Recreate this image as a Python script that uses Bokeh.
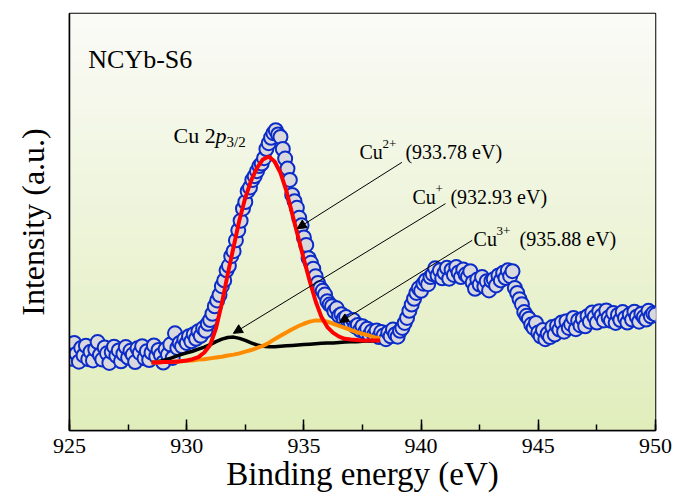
import numpy as np
from bokeh.plotting import figure
from bokeh.models import Label, Arrow, NormalHead, SingleIntervalTicker, FixedTicker, Range1d
from bokeh.embed import file_html
from bokeh.resources import INLINE

# ---------------- data ----------------
# measured Cu 2p3/2 spectrum, 925.0 ... 950.0 eV in 0.1 eV steps
energy = np.round(np.arange(925.0, 950.05, 0.1), 1)
intensity = [
    19.5, 17.2, 21.0, 18.4, 16.5, 19.8, 18.0, 20.3, 17.1, 18.9,
    16.8, 19.4, 21.2, 18.1, 17.0, 19.9, 18.5, 16.2, 18.8, 20.1,
    17.9, 19.2, 16.6, 18.4, 20.0, 17.5, 19.1, 18.2, 16.4, 19.7,
    18.6, 20.2, 17.3, 19.0, 16.9, 18.7, 20.4, 17.8, 19.3, 18.1,
    16.3, 19.5, 18.2, 20.6, 17.4, 23.3, 19.8, 21.0, 20.2, 21.9,
    21.0, 22.6, 21.4, 23.1, 22.0, 23.8, 22.7, 24.5, 23.9, 25.6,
    26.5, 28.0, 29.8, 31.2, 32.5, 34.6, 36.0, 38.4, 39.5, 41.8,
    43.0, 45.6, 48.0, 50.3, 53.2, 54.8, 57.4, 58.3, 60.1, 61.0,
    62.2, 63.4, 64.0, 65.3, 67.5, 68.9, 70.2, 71.3, 72.0, 71.0,
    70.4, 67.5, 65.2, 62.8, 60.1, 56.5, 55.0, 53.4, 51.0, 49.2,
    46.3, 44.5, 41.3, 40.2, 38.8, 37.0, 35.4, 34.2, 33.5, 32.6,
    31.0, 30.2, 29.8, 28.6, 29.3, 27.5, 27.9, 26.8, 27.2, 26.0,
    25.8, 26.5, 24.9, 25.3, 24.1, 25.0, 23.6, 24.4, 22.9, 23.8,
    23.0, 24.0, 22.4, 23.6, 22.8, 21.9, 23.5, 22.6, 24.2, 23.1,
    22.5, 23.9, 24.6, 25.8, 27.0, 28.7, 30.2, 31.6, 33.0, 34.1,
    33.5, 35.2, 36.0, 35.1, 36.8, 37.5, 38.9, 37.2, 38.4, 36.5,
    37.8, 39.0, 36.4, 38.5, 37.3, 39.2, 37.9, 36.8, 38.6, 37.4,
    36.9, 38.2, 35.5, 34.0, 36.2, 35.0, 36.8, 34.5, 35.8, 33.6,
    35.9, 36.3, 34.8, 37.2, 36.0, 37.8, 36.6, 38.4, 37.0, 38.2,
    34.2, 33.0, 31.5, 30.3, 28.4, 27.5, 26.8, 25.4, 24.6, 25.8,
    23.5, 22.6, 24.1, 21.9, 23.2, 22.4, 24.8, 23.0, 25.1, 24.2,
    25.9, 23.7, 26.2, 24.6, 25.5, 27.0, 24.3, 26.4, 25.2, 26.8,
    25.0, 27.4, 26.1, 28.3, 27.2, 25.9, 28.6, 27.5, 26.4, 28.8,
    27.1, 26.3, 28.2, 25.8, 27.7, 26.5, 28.4, 27.0, 25.9, 27.8,
    26.6, 28.5, 27.3, 26.1, 28.0, 27.2, 26.6, 28.7, 27.4, 28.1,
    27.8,
]

# fitted components, 928.5 ... 938.25 eV in 0.25 eV steps
fit_energy = np.round(np.arange(928.5, 938.3, 0.25), 2)
fit_cu2 = [16.3, 16.3, 16.4, 16.4, 16.5, 16.6, 16.8, 17.1, 17.6, 18.7,
           20.5, 24.5, 30.5, 37.5, 44.0, 50.5, 55.8, 60.0, 63.0, 65.0,
           65.7, 64.5, 61.8, 57.5, 52.0, 46.5, 41.0, 35.8, 31.0, 27.2,
           24.8, 23.4, 22.5, 22.0, 21.8, 21.7, 21.6, 21.6, 21.6, 21.6]
fit_cu1 = [16.3, 16.5, 16.8, 17.2, 17.7, 18.2, 18.6, 19.0, 19.5, 20.0,
           20.6, 21.3, 21.9, 22.3, 22.4, 22.1, 21.6, 21.0, 20.5, 20.2,
           20.1, 20.1, 20.2, 20.3, 20.4, 20.5, 20.6, 20.7, 20.8, 20.9,
           21.0, 21.0, 21.1, 21.2, 21.3, 21.3, 21.4, 21.5, 21.5, 21.6]
fit_cu3 = [16.3, 16.3, 16.4, 16.4, 16.5, 16.6, 16.7, 16.8, 17.0, 17.1,
           17.3, 17.5, 17.7, 18.0, 18.2, 18.5, 18.9, 19.3, 19.8, 20.3,
           21.0, 21.9, 22.7, 23.5, 24.3, 25.0, 25.6, 26.1, 26.4, 26.4,
           26.1, 25.6, 25.1, 24.6, 24.1, 23.6, 23.2, 22.8, 22.4, 22.1]

# annotations
sample_name = "NCYb-S6"
x_title = "Binding energy (eV)"
y_title = "Intensity (a.u.)"
peak_labels = ["Cu", "2+", "(933.78 eV)", "Cu", "+", "(932.93 eV)", "Cu", "3+", "(935.88 eV)"]
# arrow (x_start, y_start, x_end, y_end) in data units
arrow_cu2 = (939.18, 64.3, 934.71, 48.4)
arrow_cu1 = (941.04, 54.4, 931.99, 23.3)
arrow_cu3 = (942.18, 45.6, 936.52, 25.9)

SERIF = "Liberation Serif"

# ---------------- figure ----------------
p = figure(width=686, height=500, output_backend="svg", toolbar_location=None,
           x_range=Range1d(925, 950), y_range=Range1d(0, 100),
           min_border_left=69, min_border_right=31, min_border_top=13, min_border_bottom=70)
p.xgrid.grid_line_color = None
p.ygrid.grid_line_color = None
p.outline_line_color = "black"
p.outline_line_width = 1.5
p.border_fill_color = "white"

# background gradient (white at top -> pale green at bottom)
n = 256
t = np.linspace(0, 1, n)[:, None]
top = np.array([251, 251, 248], dtype=float)
bot = np.array([225, 238, 188], dtype=float)
cols = bot * (1 - t) + top * t
img = np.empty((n, 2), dtype=np.uint32)
view = img.view(dtype=np.uint8).reshape((n, 2, 4))
for k in range(3):
    view[:, :, k] = cols[:, k][:, None].astype(np.uint8)
view[:, :, 3] = 255
p.image_rgba(image=[img], x=925, y=0, dw=25, dh=100)

# data points
p.scatter(energy, intensity, size=14, marker="circle",
          fill_color="#d9d9dd", line_color="#0c2cc8", line_width=2)

# fit curves
p.line(fit_energy, fit_cu1, line_color="black", line_width=3.5)
p.line(fit_energy, fit_cu3, line_color="#ff8c00", line_width=4)
p.line(fit_energy, fit_cu2, line_color="#ff0000", line_width=4)

# axes
xa = p.xaxis[0]
xa.ticker = SingleIntervalTicker(interval=5, num_minor_ticks=2)
xa.axis_label = x_title
xa.axis_label_text_font = SERIF
xa.axis_label_text_font_style = "normal"
xa.axis_label_text_color = "black"
xa.axis_label_text_font_size = "33px"
xa.axis_label_standoff = 0
xa.major_label_text_font = SERIF
xa.major_label_text_font_size = "22px"
xa.major_label_text_color = "black"
xa.major_label_standoff = 8
xa.major_tick_in = 11
xa.major_tick_out = 0
xa.minor_tick_in = 6
xa.minor_tick_out = 0
xa.axis_line_width = 1.5
xa.major_tick_line_width = 1.5
xa.minor_tick_line_width = 1.5
xa.axis_line_color = "black"

ya = p.yaxis[0]
ya.ticker = FixedTicker(ticks=[])
ya.axis_label = y_title
ya.axis_label_text_font = SERIF
ya.axis_label_text_font_style = "normal"
ya.axis_label_text_color = "black"
ya.axis_label_text_font_size = "32px"
ya.axis_label_standoff = 19
ya.axis_line_width = 1.5
ya.axis_line_color = "black"

# sample name
p.add_layout(Label(x=925.8, y=89.0, text=sample_name, text_font=SERIF, text_color="black",
                   text_font_size="26px", text_baseline="alphabetic"))

# Cu 2p3/2 label
p.add_layout(Label(x=929.44, y=70.7, text="Cu 2", text_font=SERIF, text_color="black",
                   text_font_size="22px", text_baseline="alphabetic"))
p.add_layout(Label(x=929.44, y=70.7, x_offset=42, text="p", text_font=SERIF, text_color="black",
                   text_font_style="italic", text_font_size="22px", text_baseline="alphabetic"))
p.add_layout(Label(x=929.44, y=70.7, x_offset=53, y_offset=-6, text="3/2", text_font=SERIF,
                   text_color="black", text_font_size="15px", text_baseline="alphabetic"))

# peak labels (base, superscript, rest)
label_pos = [(937.37, 66.7, 46), (939.63, 55.9, 38), (942.24, 46.0, 46)]
for i, (lx, ly, off) in enumerate(label_pos):
    base, sup, rest = peak_labels[3 * i], peak_labels[3 * i + 1], peak_labels[3 * i + 2]
    p.add_layout(Label(x=lx, y=ly, text=base, text_font=SERIF, text_color="black",
                       text_font_size="20px", text_baseline="alphabetic"))
    p.add_layout(Label(x=lx, y=ly, x_offset=23, y_offset=8, text=sup, text_font=SERIF,
                       text_color="black", text_font_size="13px", text_baseline="alphabetic"))
    p.add_layout(Label(x=lx, y=ly, x_offset=off, text=rest, text_font=SERIF, text_color="black",
                       text_font_size="20px", text_baseline="alphabetic"))

for (xs, ys, xe, ye) in (arrow_cu2, arrow_cu1, arrow_cu3):
    p.add_layout(Arrow(end=NormalHead(size=9, fill_color="black", line_color="black", line_width=1),
                       x_start=xs, y_start=ys, x_end=xe, y_end=ye,
                       line_color="black", line_width=1))

open("out.html", "w").write(file_html(p, INLINE))
